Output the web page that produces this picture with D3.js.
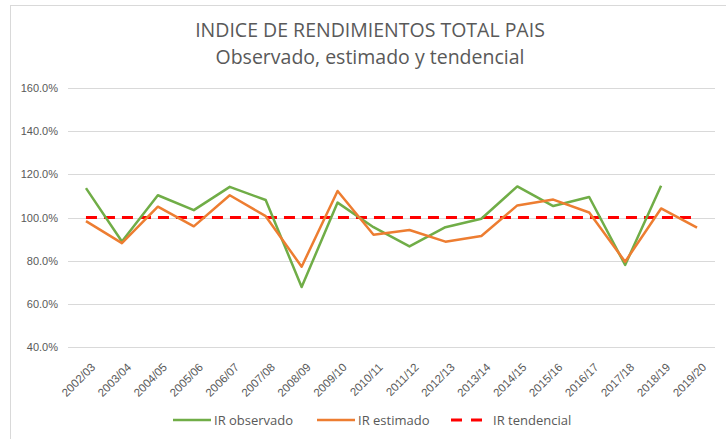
<!DOCTYPE html>
<html>
<head>
<meta charset="utf-8" />
<title>Indice de rendimientos total pais</title>
<script src="https://cdnjs.cloudflare.com/ajax/libs/d3/7.8.5/d3.min.js"></script>
<style>
  body { margin: 0; padding: 0; background: #fff; }
  svg { display: block; font-family: "Open Sans", sans-serif; }
</style>
</head>
<body>
<div id="chart"></div>
<script>
// campañas
var campanas = ["2002/03","2003/04","2004/05","2005/06","2006/07","2007/08","2008/09","2009/10","2010/11",
  "2011/12","2012/13","2013/14","2014/15","2015/16","2016/17","2017/18","2018/19","2019/20"];
// IR observado (no hay dato para 2019/20)
var observado = [113.6, 88.9, 110.3, 103.4, 114.2, 108.1, 67.8, 106.9, 95.5,
  86.6, 95.5, 99.4, 114.4, 105.3, 109.5, 78.0, 114.7, null];
var estimado = [98.3, 88.1, 105.0, 95.9, 110.3, 100.6, 77.2, 112.3, 92.0,
  94.2, 88.8, 91.4, 105.6, 108.3, 102.3, 79.5, 104.2, 95.3];
var tendencial = campanas.map(function(){ return 100; });
var yTicks = [40, 60, 80, 100, 120, 140, 160];

var W = 726, H = 439;
var m = {left: 68, right: 11, top: 88, bottom: 92};

var svg = d3.select("#chart").append("svg").attr("width", W).attr("height", H);

// marco del grafico
svg.append("rect").attr("x", 10.5).attr("y", 5.5).attr("width", 730).attr("height", 450)
  .attr("fill", "none").attr("stroke", "#d9d9d9");

var x = d3.scaleBand().domain(campanas).range([m.left, W - m.right]);
var y = d3.scaleLinear().domain([40, 160]).range([H - m.bottom, m.top]);

// grilla
svg.append("g").selectAll("line").data(yTicks).enter().append("line")
  .attr("x1", m.left).attr("x2", W - m.right)
  .attr("y1", function(d){ return Math.round(y(d)) + 0.5; })
  .attr("y2", function(d){ return Math.round(y(d)) + 0.5; })
  .attr("stroke", "#d9d9d9").attr("stroke-width", 1);

var yAxis = svg.append("g").attr("transform", "translate(" + (m.left - 10) + ",0)")
  .call(d3.axisLeft(y).tickValues(yTicks).tickSize(0).tickFormat(function(d){ return d.toFixed(1) + "%"; }));
yAxis.select(".domain").remove();
yAxis.selectAll("text").attr("fill", "#595959").style("font-size", "11px").attr("x", 0);

// etiquetas de campaña
var xAxis = svg.append("g").attr("transform", "translate(0," + (H - m.bottom) + ")")
  .call(d3.axisBottom(x).tickSize(0));
xAxis.select(".domain").remove();
xAxis.selectAll("text")
  .attr("fill", "#595959").style("font-size", "11.5px")
  .attr("text-anchor", "end")
  .attr("dy", 0).attr("y", 0)
  .attr("transform", "translate(10,21) rotate(-45)");

var cx = function(i){ return x(campanas[i]) + x.bandwidth() / 2; };

var line = d3.line()
  .defined(function(d){ return d != null; })
  .x(function(d, i){ return cx(i); })
  .y(function(d){ return y(d); });

svg.append("path").datum(tendencial).attr("d", line)
  .attr("fill", "none").attr("stroke", "#ff0000").attr("stroke-width", 3)
  .attr("stroke-dasharray", "11,7");
svg.append("path").datum(observado).attr("d", line)
  .attr("fill", "none").attr("stroke", "#70ad47").attr("stroke-width", 2.5)
  .attr("stroke-linejoin", "round");
svg.append("path").datum(estimado).attr("d", line)
  .attr("fill", "none").attr("stroke", "#ed7d31").attr("stroke-width", 2.5)
  .attr("stroke-linejoin", "round");

// titulo
svg.append("text").attr("x", 370).attr("y", 37).attr("text-anchor", "middle")
  .attr("fill", "#595959").style("font-size", "19.5px")
  .text("INDICE DE RENDIMIENTOS TOTAL PAIS");
svg.append("text").attr("x", 370).attr("y", 64).attr("text-anchor", "middle")
  .attr("fill", "#595959").style("font-size", "19.5px")
  .text("Observado, estimado y tendencial");

// leyenda
var leyenda = [
  {name: "IR observado", color: "#70ad47", x: 173, dash: null},
  {name: "IR estimado", color: "#ed7d31", x: 317, dash: null},
  {name: "IR tendencial", color: "#ff0000", x: 451, dash: "11,9"}
];
var lg = svg.append("g").selectAll("g").data(leyenda).enter().append("g")
  .attr("transform", function(d){ return "translate(" + d.x + ",420)"; });
lg.append("line").attr("x1", 0).attr("x2", function(d){ return d.dash ? 31 : 38; })
  .attr("stroke", function(d){ return d.color; })
  .attr("stroke-width", function(d){ return d.dash ? 3 : 2.5; })
  .attr("stroke-dasharray", function(d){ return d.dash; });
lg.append("text").attr("x", function(d){ return d.dash ? 42 : 41; }).attr("y", 4.5)
  .attr("fill", "#595959").style("font-size", "13px")
  .text(function(d){ return d.name; });
</script>
</body>
</html>
